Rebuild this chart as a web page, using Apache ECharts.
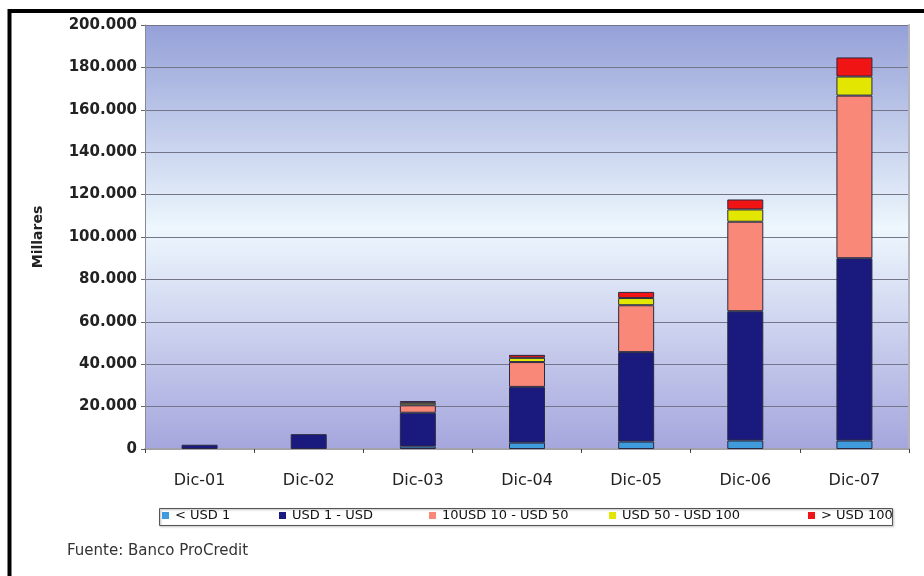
<!DOCTYPE html>
<html>
<head>
<meta charset="utf-8">
<title>Cartera por tamaño de crédito</title>
<script src="https://cdn.jsdelivr.net/npm/echarts@6/dist/echarts.min.js"></script>
<style>
  html, body { margin: 0; padding: 0; background: #fff; }
  #chart { width: 924px; height: 576px; }
</style>
</head>
<body>
<div id="chart"></div>
<script>
// categorías y valores (miles)
const categories = ['Dic-01', 'Dic-02', 'Dic-03', 'Dic-04', 'Dic-05', 'Dic-06', 'Dic-07']
const seriesNames = ['< USD 1', 'USD 1 - USD', '10USD 10 - USD 50', 'USD 50 - USD 100', '> USD 100']
const lessThan1 = [null, null, 1200, 3000, 3500, 4000, 4000]
const usd1To10 = [2000, 7000, 15900, 26300, 42200, 61000, 86000]
const usd10To50 = [null, null, 3500, 11700, 22100, 42200, 76700]
const usd50To100 = [null, null, 1200, 2000, 3400, 5800, 9000]
const moreThan100 = [null, null, 800, 1400, 2900, 4700, 9000]
const yTicks = { min: 0, max: 200000, interval: 20000 }

const colors = ['#3f9bdb', '#1a1a7e', '#fa8878', '#e2e600', '#f01414']
const seriesData = [lessThan1, usd1To10, usd10To50, usd50To100, moreThan100]
// posiciones de las entradas de la leyenda
const legendLeft = [162, 279, 429, 609, 808]

const chart = echarts.init(document.getElementById('chart'))

// separador de miles con punto
const fmt = v => String(v).replace(/\B(?=(\d{3})+(?!\d))/g, '.')

const series = seriesNames.map((name, i) => ({
  name: name,
  type: 'bar',
  stack: 'total',
  barWidth: 36,
  itemStyle: {
    color: colors[i],
    borderColor: '#2a2a40',
    borderWidth: 1
  },
  data: seriesData[i]
}))

const legends = seriesNames.map((name, i) => ({
  data: [name],
  left: legendLeft[i],
  top: 509,
  padding: 0,
  icon: 'rect',
  itemWidth: 7,
  itemHeight: 7,
  itemStyle: { borderWidth: 0 },
  textStyle: { fontFamily: 'DejaVu Sans', fontSize: 13, color: '#111', padding: [0, 0, 0, 1] }
}))

const option = {
  animation: false,
  backgroundColor: '#fff',
  textStyle: { fontFamily: 'DejaVu Sans' },
  title: {
    text: 'Fuente: Banco ProCredit',
    left: 67,
    top: 544,
    padding: 0,
    textStyle: { fontFamily: 'DejaVu Sans', fontSize: 15, fontWeight: 'normal', color: '#333' }
  },
  legend: legends,
  grid: {
    left: 145,
    right: 15,
    top: 25,
    bottom: 127,
    show: true,
    borderWidth: 0,
    backgroundColor: new echarts.graphic.LinearGradient(0, 0, 0, 1, [
      { offset: 0, color: '#95a0d8' },
      { offset: 0.48, color: '#edf7fd' },
      { offset: 1, color: '#a5a6dd' }
    ])
  },
  xAxis: {
    type: 'category',
    data: categories,
    axisLine: { lineStyle: { color: '#a2a2a8', width: 2 } },
    axisTick: { show: true, length: 4, lineStyle: { color: '#444' } },
    axisLabel: { margin: 24, fontFamily: 'DejaVu Sans', fontSize: 16, color: '#222' }
  },
  yAxis: [
    {
      type: 'value',
      min: yTicks.min,
      max: yTicks.max,
      interval: yTicks.interval,
      name: 'Millares',
      nameLocation: 'middle',
      nameGap: 100,
      nameTextStyle: { fontFamily: 'DejaVu Sans', fontSize: 14, fontWeight: 600, color: '#222' },
      axisLine: { show: true, lineStyle: { color: '#8a8a96', width: 1 } },
      axisTick: { show: true, length: 4, lineStyle: { color: '#666' } },
      axisLabel: {
        margin: 8,
        fontFamily: 'DejaVu Sans',
        fontSize: 15,
        fontWeight: 'bold',
        color: '#222',
        formatter: fmt
      },
      splitLine: { lineStyle: { color: '#75758a', width: 1 } }
    },
    {
      type: 'value',
      position: 'right',
      min: yTicks.min,
      max: yTicks.max,
      interval: yTicks.interval,
      axisLine: { show: true, lineStyle: { color: '#b4b4bc', width: 2 } },
      axisTick: { show: false },
      axisLabel: { show: false },
      splitLine: { show: false }
    }
  ],
  graphic: [
    {
      type: 'rect',
      left: 159,
      top: 508,
      shape: { width: 733, height: 17 },
      style: {
        fill: 'rgba(255,255,255,0)',
        stroke: '#555',
        lineWidth: 1,
        shadowColor: 'rgba(0,0,0,0.35)',
        shadowBlur: 2,
        shadowOffsetX: 1,
        shadowOffsetY: 1
      },
      silent: true,
      z: -1
    },
    {
      type: 'rect',
      shape: { x: 9.5, y: 11, width: 930, height: 580 },
      style: { fill: 'none', stroke: '#000', lineWidth: 4 },
      silent: true
    }
  ],
  series: series
}

chart.setOption(option)
</script>
</body>
</html>
